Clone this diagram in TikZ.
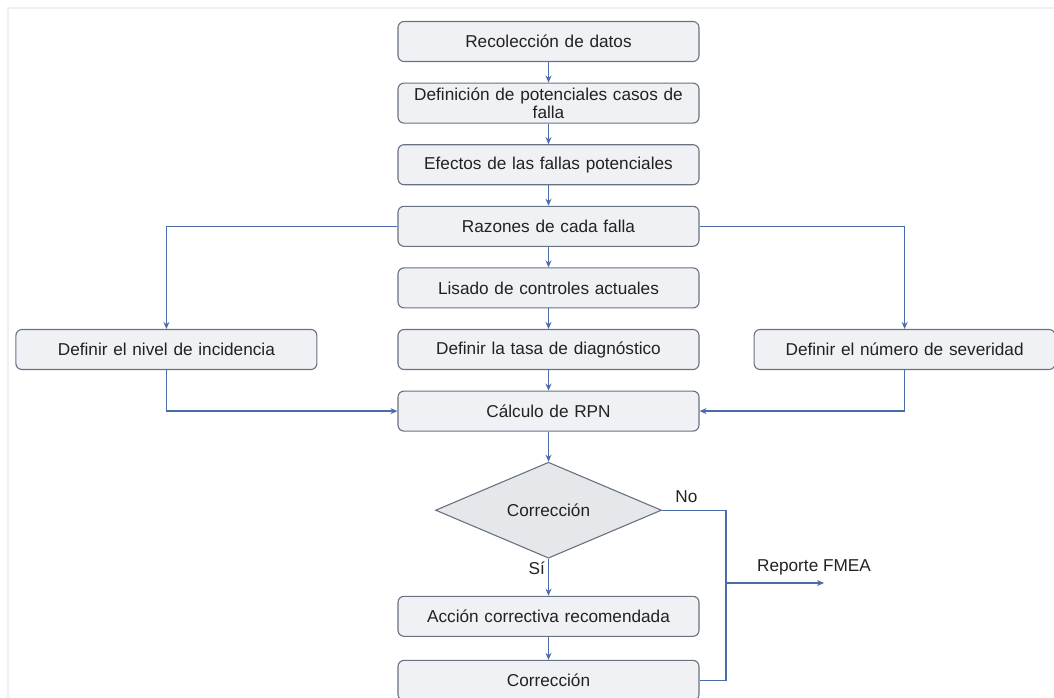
\documentclass[tikz,border=0pt]{standalone}
\usepackage{fontspec}
\setmainfont{Liberation Sans}
\usepackage{tikz}
\usetikzlibrary{shapes.geometric, arrows.meta, positioning}
\definecolor{flowblue}{RGB}{74,108,172}
\definecolor{boxline}{RGB}{104,114,130}
\definecolor{boxfill}{RGB}{240,241,245}
\definecolor{decfill}{RGB}{229,231,235}
\definecolor{txt}{RGB}{34,34,34}
\tikzstyle{process} = [rectangle, rounded corners=6pt, minimum width=301pt, minimum height=40pt, text width=292pt, align=center, draw=boxline, fill=boxfill, line width=1.1pt, text=txt, inner sep=0pt]
\tikzstyle{decision} = [diamond, minimum width=226pt, minimum height=96pt, inner sep=0pt, draw=boxline, fill=decfill, line width=1.1pt, text=txt]
\tikzstyle{arrow} = [line width=1.3pt, draw=flowblue, ->, >={Stealth[length=7pt, width=6pt]}]
\tikzstyle{line} = [line width=1.3pt, draw=flowblue, -]
\tikzstyle{label} = [text=txt, inner sep=3pt]

\begin{document}
\begin{tikzpicture}[x=1pt, y=-1pt, node distance=20.5pt, font=\fontsize{17.2}{17.5}\selectfont]
  \useasboundingbox (0,0) rectangle (1054,698);
  \clip (0,0) rectangle (1054,698);
  \draw [gray!12, line width=2pt] (8,8) rectangle (1070,720);

  \node (rec) [process] at (548.5,41.5) {Recolección de datos};
  \node (def) [process, below=of rec] {Definición de potenciales casos de\\falla};
  \node (efe) [process, below=of def] {Efectos de las fallas potenciales};
  \node (raz) [process, below=of efe] {Razones de cada falla};
  \node (lis) [process, below=of raz] {Lisado de controles actuales};
  \node (tasa) [process, below=of lis] {Definir la tasa de diagnóstico};
  \node (inc) [process, left=80pt of tasa] {Definir el nivel de incidencia};
  \node (sev) [process, right=54pt of tasa] {Definir el número de severidad};
  \node (calc) [process, below=of tasa] {Cálculo de RPN};
  \node (dec) [decision, below=30pt of calc] {Corrección};
  \node (acc) [process, below=37pt of dec] {Acción correctiva recomendada};
  \node (cor) [process, below=23pt of acc] {Corrección};
  \coordinate (rep) at (824,583);

  \draw [arrow] (rec) -- (def);
  \draw [arrow] (def) -- (efe);
  \draw [arrow] (efe) -- (raz);
  \draw [arrow] (raz) -- (lis);
  \draw [arrow] (lis) -- (tasa);
  \draw [arrow] (tasa) -- (calc);
  \draw [arrow] (raz.west) -| (inc.north);
  \draw [arrow] (raz.east) -| (sev.north);
  \draw [arrow] (inc.south) |- (calc.west);
  \draw [arrow] (sev.south) |- (calc.east);
  \draw [arrow] (calc) -- (dec);
  \draw [arrow] (dec) -- node[label, pos=0.25, left] {Sí} (acc);
  \draw [arrow] (acc) -- (cor);

  \draw [line] (dec.east) -- node[label, pos=0.38, above, yshift=4pt] {No} ++(64,0) coordinate (aux) |- (cor.east);
  \draw [arrow] (aux |- rep) -- node[label, pos=1, above, xshift=-10pt, yshift=4pt] {Reporte FMEA} (rep);

\end{tikzpicture}
\end{document}
